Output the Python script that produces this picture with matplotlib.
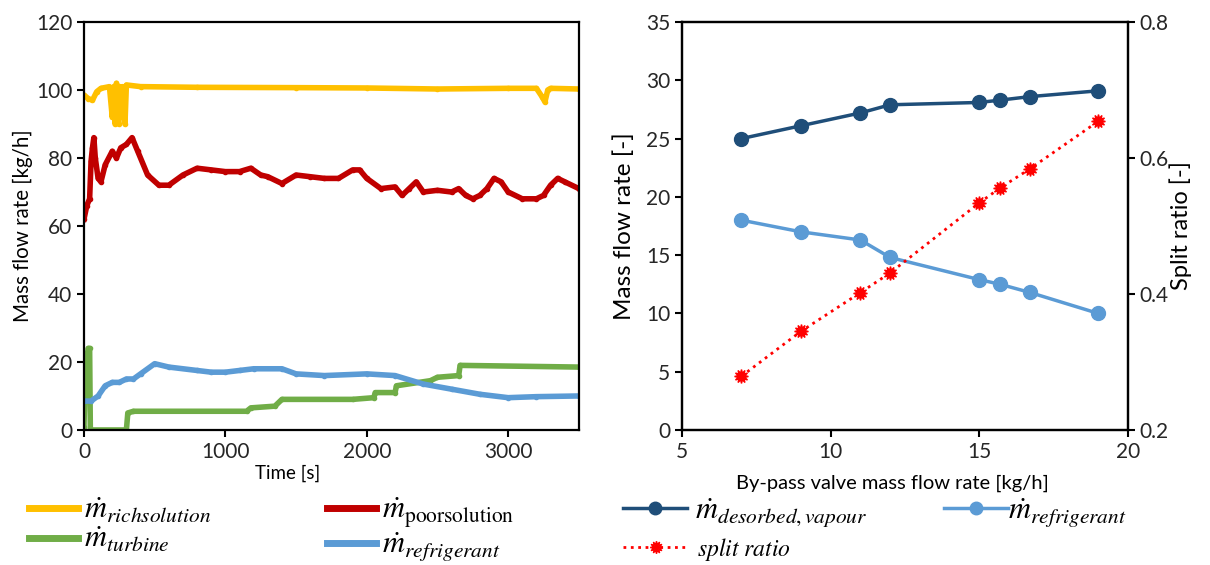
import matplotlib.pyplot as plt
from matplotlib.lines import Line2D

plt.rcParams['font.family'] = ['Lato', 'DejaVu Sans']
plt.rcParams['mathtext.fontset'] = 'stix'

# left panel: time series
t_rich = [0, 30, 60, 90, 120, 180, 200, 210, 220, 230, 245, 255, 265, 275, 290, 300,
          400, 800, 1500, 2000, 2500, 3000, 3200, 3240, 3260, 3280, 3300, 3500]
m_rich = [98.5, 97.5, 97, 99.5, 100.5, 101, 92, 101, 90, 102, 90, 101, 92, 101, 90, 101.5,
          101, 100.8, 100.7, 100.6, 100.3, 100.5, 100.5, 98, 96.5, 100, 100.5, 100.3]

t_poor = [0, 20, 40, 50, 60, 70, 80, 100, 120, 150, 200, 230, 260, 300, 340, 380, 450,
          530, 600, 700, 800, 900, 1000, 1100, 1180, 1250, 1300, 1400, 1500, 1600, 1700,
          1800, 1900, 1950, 2000, 2100, 2200, 2250, 2300, 2350, 2400, 2500, 2600, 2650,
          2700, 2750, 2800, 2850, 2900, 2950, 3000, 3100, 3200, 3250, 3300, 3350, 3400, 3500]
m_poor = [62, 66, 68, 79, 83, 86, 80, 74, 73, 78, 82, 80, 83, 84, 86, 82, 75,
          72, 72, 75, 77, 76.5, 76, 76, 77, 75, 74.5, 72.5, 75, 74.5, 74,
          74, 76.5, 76.5, 74, 71, 71.5, 69, 71, 73, 70, 70.5, 70, 71,
          69, 68, 69, 71, 74, 73, 70, 68, 68, 69, 72, 74, 73, 71]

t_turb = [0, 10, 30, 40, 45, 300, 310, 350, 1150, 1180, 1350, 1400, 1900, 2050, 2060,
          2200, 2210, 2450, 2500, 2650, 2660, 3500]
m_turb = [1, 18, 24, 24, 0, 0, 5, 5.5, 5.5, 6.5, 7, 9, 9, 9.5, 11,
          11, 13, 14.5, 15.5, 16, 19, 18.5]

t_refr = [0, 50, 100, 150, 200, 250, 300, 350, 400, 500, 600, 800, 900, 1000, 1100,
          1200, 1400, 1500, 1700, 2000, 2200, 2400, 2600, 2800, 3000, 3200, 3500]
m_refr = [8.5, 8.5, 10, 13, 14, 14, 15, 15, 16.5, 19.5, 18.5, 17.5, 17, 17, 17.5,
          18, 18, 16.5, 16, 16.5, 16, 13.5, 12, 10.5, 9.5, 9.8, 10]

# right panel: by-pass valve sweep
bypass = [7, 9, 11, 12, 15, 15.7, 16.7, 19]
m_desorbed = [25, 26.1, 27.2, 27.9, 28.1, 28.3, 28.6, 29.1]
m_refr_bp = [18, 17, 16.3, 14.8, 12.9, 12.5, 11.8, 10]
split_ratio = [0.279, 0.345, 0.402, 0.431, 0.534, 0.556, 0.584, 0.654]

c_yellow = '#FFC000'
c_red = '#C00000'
c_green = '#70AD47'
c_blue = '#5B9BD5'
c_navy = '#1F4E79'
c_split = '#FF0000'
star = (12, 1, 0)

fig = plt.figure(figsize=(12.1, 5.65), dpi=100)
ax1 = fig.add_axes([0.0694, 0.239, 0.409, 0.722])
ax2 = fig.add_axes([0.5636, 0.239, 0.3686, 0.722])
ax3 = ax2.twinx()

lw = 4
ax1.plot(t_rich, m_rich, color=c_yellow, lw=lw, marker='o', ms=3)
ax1.plot(t_poor, m_poor, color=c_red, lw=lw, marker='o', ms=3)
ax1.plot(t_turb, m_turb, color=c_green, lw=lw, marker='o', ms=3)
ax1.plot(t_refr, m_refr, color=c_blue, lw=lw, marker='o', ms=3)
ax1.set_xlim(0, 3500)
ax1.set_ylim(0, 120)
ax1.set_xticks([0, 1000, 2000, 3000])
ax1.set_yticks(range(0, 121, 20))
ax1.set_xlabel('Time [s]', fontsize=13.5)
ax1.xaxis.set_label_coords(0.412, -0.085)
ax1.set_ylabel('Mass flow rate [kg/h]', fontsize=14.8, labelpad=2)

ax2.plot(bypass, m_desorbed, color=c_navy, lw=2.5, marker='o', ms=10)
ax2.plot(bypass, m_refr_bp, color=c_blue, lw=2.5, marker='o', ms=10)
ax3.plot(bypass, split_ratio, color=c_split, lw=2, ls=':', marker=star, ms=10)
ax2.set_xlim(5, 20)
ax2.set_ylim(0, 35)
ax3.set_ylim(0.2, 0.8)
ax2.set_xticks([5, 10, 15, 20])
ax2.set_yticks(range(0, 36, 5))
ax3.set_yticks([0.2, 0.4, 0.6, 0.8])
ax2.set_xlabel('By-pass valve mass flow rate [kg/h]', fontsize=14.5)
ax2.xaxis.set_label_coords(0.471, -0.11)
ax2.set_ylabel('Mass flow rate [-]', fontsize=17.5, labelpad=8)
ax3.set_ylabel('Split ratio [-]', fontsize=17, labelpad=0)

for ax in (ax1, ax2, ax3):
    ax.tick_params(direction='out', length=5, width=1.5, labelsize=15,
                   color='#000000', labelcolor='#262626')
    for s in ax.spines.values():
        s.set_linewidth(1.6)

leg_kw = dict(loc='upper left', frameon=False, borderpad=0, borderaxespad=0,
              labelspacing=0.0)
y_top = 0.122
fs = 22

fig.legend([Line2D([], [], color=c_yellow, lw=5, marker='o', ms=3),
            Line2D([], [], color=c_green, lw=5, marker='o', ms=3)],
           [r'$\dot{m}_{richsolution}$', r'$\dot{m}_{turbine}$'], fontsize=fs,
           bbox_to_anchor=(29 / 1210, y_top), handlelength=1.6, handletextpad=0.2, **leg_kw)
fig.legend([Line2D([], [], color=c_red, lw=5, marker='o', ms=3),
            Line2D([], [], color=c_blue, lw=5, marker='o', ms=3)],
           [r'$\dot{m}_{\mathrm{poorsolution}}$', r'$\dot{m}_{refrigerant}$'], fontsize=fs,
           bbox_to_anchor=(327 / 1210, y_top), handlelength=1.6, handletextpad=0.2, **leg_kw)
fig.legend([Line2D([], [], color=c_navy, lw=2.5, marker='o', ms=9)],
           [r'$\dot{m}_{desorbed,vapour}$'], fontsize=fs,
           bbox_to_anchor=(623 / 1210, y_top), handlelength=2.1, handletextpad=0.25, **leg_kw)
fig.legend([Line2D([], [], color=c_split, lw=2, ls=':', marker=star, ms=9)],
           [r'$split\ ratio$'], fontsize=17,
           bbox_to_anchor=(623 / 1210, 0.052), handlelength=2.8, handletextpad=0.35, **leg_kw)
fig.legend([Line2D([], [], color=c_blue, lw=2.5, marker='o', ms=9)],
           [r'$\dot{m}_{refrigerant}$'], fontsize=fs,
           bbox_to_anchor=(944 / 1210, y_top), handlelength=2.1, handletextpad=0.0, **leg_kw)

fig.savefig('out.png', dpi=100)
